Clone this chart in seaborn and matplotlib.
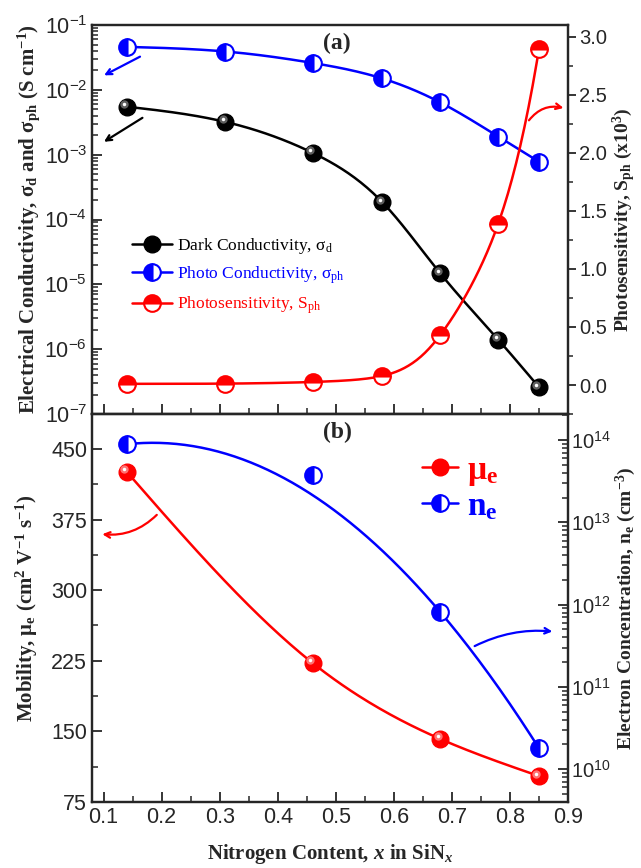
import matplotlib
matplotlib.use("Agg")
import matplotlib.pyplot as plt
import matplotlib.ticker as mticker
import matplotlib.transforms as mtransforms
from matplotlib.lines import Line2D
import numpy as np
import pandas as pd
import seaborn as sns

# ---- data ----
x_top = [0.14, 0.31, 0.46, 0.58, 0.68, 0.78, 0.85]
sigma_dark = [5.5e-3, 3.2e-3, 1.07e-3, 1.86e-4, 1.48e-5, 1.4e-6, 2.6e-7]
sigma_photo = [4.6e-2, 3.9e-2, 2.6e-2, 1.5e-2, 6.4e-3, 1.9e-3, 7.8e-4]
photosens = [0.01, 0.012, 0.026, 0.078, 0.43, 1.39, 2.89]   # x10^3

x_bot = [0.14, 0.46, 0.68, 0.85]
mobility = [425.6, 222.7, 142.0, 102.6]
n_e = [8.9e13, 3.75e13, 8.1e11, 1.8e10]
fit_weights = [1, 0.05, 1, 1]   # the n_e curve in the original is a fit, not through every point

BLUE = "#0000ff"
RED = "#ff0000"
SERIF = "Liberation Serif"
SANS = "Liberation Sans"


def natural_spline(x, y, xs):
    x = np.asarray(x, float)
    y = np.asarray(y, float)
    n = len(x)
    h = np.diff(x)
    A = np.zeros((n, n))
    rhs = np.zeros(n)
    A[0, 0] = A[-1, -1] = 1
    for i in range(1, n - 1):
        A[i, i - 1] = h[i - 1]
        A[i, i] = 2 * (h[i - 1] + h[i])
        A[i, i + 1] = h[i]
        rhs[i] = 6 * ((y[i + 1] - y[i]) / h[i] - (y[i] - y[i - 1]) / h[i - 1])
    M = np.linalg.solve(A, rhs)
    k = np.clip(np.searchsorted(x, xs) - 1, 0, n - 2)
    hk = h[k]
    a = (x[k + 1] - xs) / hk
    b = (xs - x[k]) / hk
    return (a * y[k] + b * y[k + 1]
            + ((a ** 3 - a) * M[k] + (b ** 3 - b) * M[k + 1]) * hk ** 2 / 6)


plt.rcParams["mathtext.fontset"] = "custom"
plt.rcParams["mathtext.it"] = "Liberation Serif:italic:bold"
plt.rcParams["mathtext.rm"] = "Liberation Serif"
sns.set_style("ticks")
plt.rcParams["font.family"] = [SANS, "DejaVu Sans"]

fig = plt.figure(figsize=(6.41, 8.68), dpi=100)
ax1 = fig.add_axes([0.1435, 0.523, 0.7425, 0.4482])
ax2 = fig.add_axes([0.1435, 0.076, 0.7425, 0.447])
ax1r = ax1.twinx()
ax2r = ax2.twinx()

xs_top = np.linspace(min(x_top), max(x_top), 200)
xs_bot = np.linspace(min(x_bot), max(x_bot), 200)

curves_top = pd.DataFrame({
    "x": xs_top,
    "dark": 10 ** natural_spline(x_top, np.log10(sigma_dark), xs_top),
    "photo": 10 ** natural_spline(x_top, np.log10(sigma_photo), xs_top),
    "sens": np.exp(natural_spline(x_top, np.log(photosens), xs_top)),
})
coef = np.polyfit(x_bot, np.log10(n_e), 2, w=fit_weights)
curves_bot = pd.DataFrame({
    "x": xs_bot,
    "mob": natural_spline(x_bot, mobility, xs_bot),
    "ne": 10 ** np.polyval(coef, xs_bot),
})

sns.lineplot(data=curves_top, x="x", y="dark", color="black", lw=1.8, ax=ax1)
sns.lineplot(data=curves_top, x="x", y="photo", color=BLUE, lw=1.8, ax=ax1)
sns.lineplot(data=curves_top, x="x", y="sens", color=RED, lw=1.8, ax=ax1r)
sns.lineplot(data=curves_bot, x="x", y="mob", color=RED, lw=1.8, ax=ax2)
sns.lineplot(data=curves_bot, x="x", y="ne", color=BLUE, lw=1.8, ax=ax2r)


def spheres(ax, x, y, base, mid):
    ax.plot(x, y, "o", ms=12, mfc=base, mec=base, zorder=5)
    off = mtransforms.offset_copy(ax.transData, fig=fig, x=-1.8, y=1.8, units="points")
    ax.plot(x, y, "o", ms=6, mfc=mid, mec="none", alpha=0.8, transform=off, zorder=6)
    ax.plot(x, y, "o", ms=2.5, mfc="white", mec="none", transform=off, zorder=7)


spheres(ax1, x_top, sigma_dark, "black", "#777777")
ax1.plot(x_top, sigma_photo, "o", ms=12, fillstyle="left", mfc=BLUE, mfcalt="white",
         mec=BLUE, mew=1.5, zorder=5)
ax1r.plot(x_top, photosens, "o", ms=12, fillstyle="top", mfc=RED, mfcalt="white",
          mec=RED, mew=1.5, zorder=5)
spheres(ax2, x_bot, mobility, RED, "#ff9090")
ax2r.plot(x_bot, n_e, "o", ms=12, fillstyle="left", mfc=BLUE, mfcalt="white",
          mec=BLUE, mew=1.5, zorder=5)

# ---- axes ----
for ax in (ax1, ax2):
    ax.set_xlim(0.08, 0.9)
    ax.xaxis.set_major_locator(mticker.MultipleLocator(0.1))
    ax.xaxis.set_minor_locator(mticker.MultipleLocator(0.05))

ax1.set_yscale("log")
ax1.set_ylim(1e-7, 1e-1)
ax1.yaxis.set_major_locator(mticker.LogLocator(base=10, numticks=10))
ax1.yaxis.set_minor_locator(mticker.LogLocator(base=10, subs=np.arange(2, 10), numticks=10))
ax1.yaxis.set_minor_formatter(mticker.NullFormatter())
ax1.tick_params(axis="x", labelbottom=False)

ax1r.set_ylim(-0.25, 3.1)
ax1r.yaxis.set_major_locator(mticker.MultipleLocator(0.5))
ax1r.yaxis.set_minor_locator(mticker.MultipleLocator(0.25))
ax1r.yaxis.set_major_formatter(mticker.FormatStrFormatter("%.1f"))

ax2.set_ylim(75, 487)
ax2.yaxis.set_major_locator(mticker.MultipleLocator(75))
ax2.yaxis.set_minor_locator(mticker.MultipleLocator(37.5))

ax2r.set_yscale("log")
ax2r.set_ylim(10 ** 9.6, 10 ** 14.316)
ax2r.yaxis.set_major_locator(mticker.LogLocator(base=10, numticks=10))
ax2r.yaxis.set_minor_locator(mticker.LogLocator(base=10, subs=np.arange(2, 10), numticks=10))
ax2r.yaxis.set_minor_formatter(mticker.NullFormatter())

for ax in (ax1, ax2):
    ax.tick_params(which="major", direction="in", length=7, width=1.3, labelsize=15.5)
    ax.tick_params(which="minor", direction="in", length=4, width=1.1)
ax2r.tick_params(which="major", direction="in", length=7, width=1.3, labelsize=14.5, pad=2)
ax2r.tick_params(which="minor", direction="in", length=4, width=1.1)
ax1r.tick_params(which="major", direction="out", length=6, width=1.3, labelsize=14.5, pad=2)
ax1r.tick_params(which="minor", direction="out", length=3.5, width=1.1)
for ax in (ax1, ax1r, ax2, ax2r):
    for s in ax.spines.values():
        s.set_linewidth(1.6)
        s.set_visible(True)
    ax.set_xlabel("")

lab = dict(family=SERIF, fontweight="bold", fontsize=15)
labr = dict(family=SERIF, fontweight="bold", fontsize=14)
ax1.set_ylabel(r"Electrical Conductivity, σ$_\mathregular{d}$ and "
               r"σ$_\mathregular{ph}$ (S cm$^\mathregular{-1}$)", labelpad=2, **lab)
ax1r.set_ylabel(r"Photosensitivity, S$_\mathregular{ph}$ (x10$^\mathregular{3}$)",
                labelpad=3, **labr)
ax2.set_ylabel(r"Mobility, μ$_\mathregular{e}$ (cm$^\mathregular{2}$ V$^\mathregular{-1}$ "
               r"s$^\mathregular{-1}$)", labelpad=8, **lab)
ax2r.set_ylabel(r"Electron Concentration, n$_\mathregular{e}$ (cm$^\mathregular{-3}$)",
                labelpad=2, **labr)
ax2.set_xlabel(r"Nitrogen Content, $\mathit{x}$ in SiN$_\mathit{x}$", labelpad=10, **lab)

ax1.text(0.515, 0.953, "(a)", transform=ax1.transAxes, ha="center", va="center",
         family=SERIF, fontweight="bold", fontsize=17)
ax2.text(0.515, 0.953, "(b)", transform=ax2.transAxes, ha="center", va="center",
         family=SERIF, fontweight="bold", fontsize=17)

# ---- arrows ----
ax1.annotate("", xy=(0.0966, 1.6e-2), xytext=(0.167, 3.4e-2),
             arrowprops=dict(arrowstyle="->", color=BLUE, lw=1.6))
ax1.annotate("", xy=(0.0966, 1.5e-3), xytext=(0.171, 3.9e-3),
             arrowprops=dict(arrowstyle="->", color="black", lw=1.6))
ax1r.annotate("", xy=(0.897, 2.38), xytext=(0.830, 2.26),
              arrowprops=dict(arrowstyle="->", color=RED, lw=1.6,
                              connectionstyle="arc3,rad=-0.35"))
ax2.annotate("", xy=(0.093, 359.7), xytext=(0.195, 382),
             arrowprops=dict(arrowstyle="->", color=RED, lw=1.6,
                             connectionstyle="arc3,rad=-0.25"))
ax2r.annotate("", xy=(0.878, 10 ** 11.67), xytext=(0.735, 10 ** 11.48),
              arrowprops=dict(arrowstyle="->", color=BLUE, lw=1.6,
                              connectionstyle="arc3,rad=-0.15"))

# ---- legends ----
h_top = [
    Line2D([], [], color="black", marker="o", ms=12, mfc="black", mec="black", lw=1.8),
    Line2D([], [], color=BLUE, marker="o", ms=12, fillstyle="left", mfc=BLUE,
           mfcalt="white", mec=BLUE, mew=1.5, lw=1.8),
    Line2D([], [], color=RED, marker="o", ms=12, fillstyle="top", mfc=RED,
           mfcalt="white", mec=RED, mew=1.5, lw=1.8),
]
l_top = [r"Dark Conductivity, σ$_\mathregular{d}$",
         r"Photo Conductivity, σ$_\mathregular{ph}$",
         r"Photosensitivity, S$_\mathregular{ph}$"]
ax1.legend(h_top, l_top, loc="center left", bbox_to_anchor=(0.07, 0.355),
           frameon=False, borderaxespad=0, handlelength=2.3, handletextpad=0.3,
           labelspacing=0.5, prop=dict(family=SERIF, size=12.5),
           labelcolor=["black", BLUE, RED])

h_bot = [
    Line2D([], [], color=RED, marker="o", ms=12, mfc=RED, mec=RED, lw=1.8),
    Line2D([], [], color=BLUE, marker="o", ms=12, fillstyle="left", mfc=BLUE,
           mfcalt="white", mec=BLUE, mew=1.5, lw=1.8),
]
l_bot = [r"μ$_\mathregular{e}$", r"n$_\mathregular{e}$"]
ax2r.legend(h_bot, l_bot, loc="upper left", bbox_to_anchor=(0.665, 0.93),
            frameon=False, borderaxespad=0, handlelength=1.1, handletextpad=0.25,
            labelspacing=0.1, prop=dict(family=SERIF, size=24, weight="bold"),
            labelcolor=[RED, BLUE])

fig.savefig("out.png", dpi=100)
